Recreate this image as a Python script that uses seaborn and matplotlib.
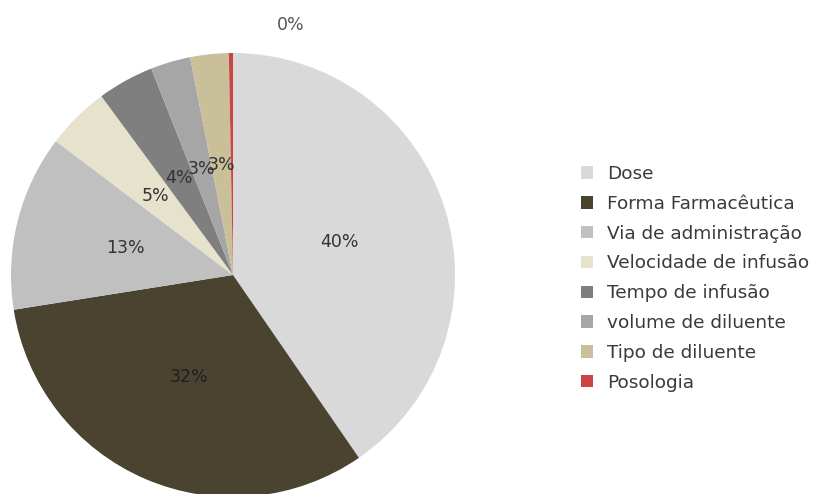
import matplotlib
matplotlib.use("Agg")
import matplotlib.pyplot as plt
import seaborn as sns
import numpy as np

categories = ["Dose", "Forma Farmacêutica", "Via de administração", "Velocidade de infusão",
              "Tempo de infusão", "volume de diluente", "Tipo de diluente", "Posologia"]
values = [40.4, 32.1, 12.8, 4.6, 4.1, 2.9, 2.8, 0.3]
colors = ["#D9D9D9", "#4A4330", "#C0C0C0", "#E6E2CC", "#7F7F7F", "#A6A6A6", "#C9C09A", "#CC4444"]

sns.set_theme(style="white")
plt.rcParams["font.family"] = ["DejaVu Sans"]

fig = plt.figure(figsize=(8.21, 4.94), dpi=100)
ax = fig.add_axes([11/821, -3/494, 444/821, 444/494])

wedges, texts, autotexts = ax.pie(
    values, colors=colors, startangle=90, counterclock=False,
    autopct=lambda p: f"{p:.0f}%", pctdistance=0.5, radius=1.0,
    wedgeprops=dict(linewidth=0),
    textprops=dict(fontsize=12.5, color="#333333"))
ax.set_xlim(-1, 1)
ax.set_ylim(-1, 1)
ax.set_aspect("equal")
autotexts[1].set_color("#1e1e1e")

# last (0%) label sits outside above the pie
autotexts[-1].set_position((0.26, 1.125))
autotexts[-1].set_color("#555555")

handles = [plt.Rectangle((0, 0), 1, 1, facecolor=c, edgecolor="none") for c in colors]
leg = fig.legend(handles, categories, loc="upper left", bbox_to_anchor=(581/821, 1 - 165/494),
                 frameon=False, fontsize=13.3, handlelength=0.66, handleheight=0.66,
                 handletextpad=0.75, labelspacing=0.64, borderaxespad=0, borderpad=0)
for t in leg.get_texts():
    t.set_color("#3a3a3a")

fig.savefig("out.png", dpi=100)
